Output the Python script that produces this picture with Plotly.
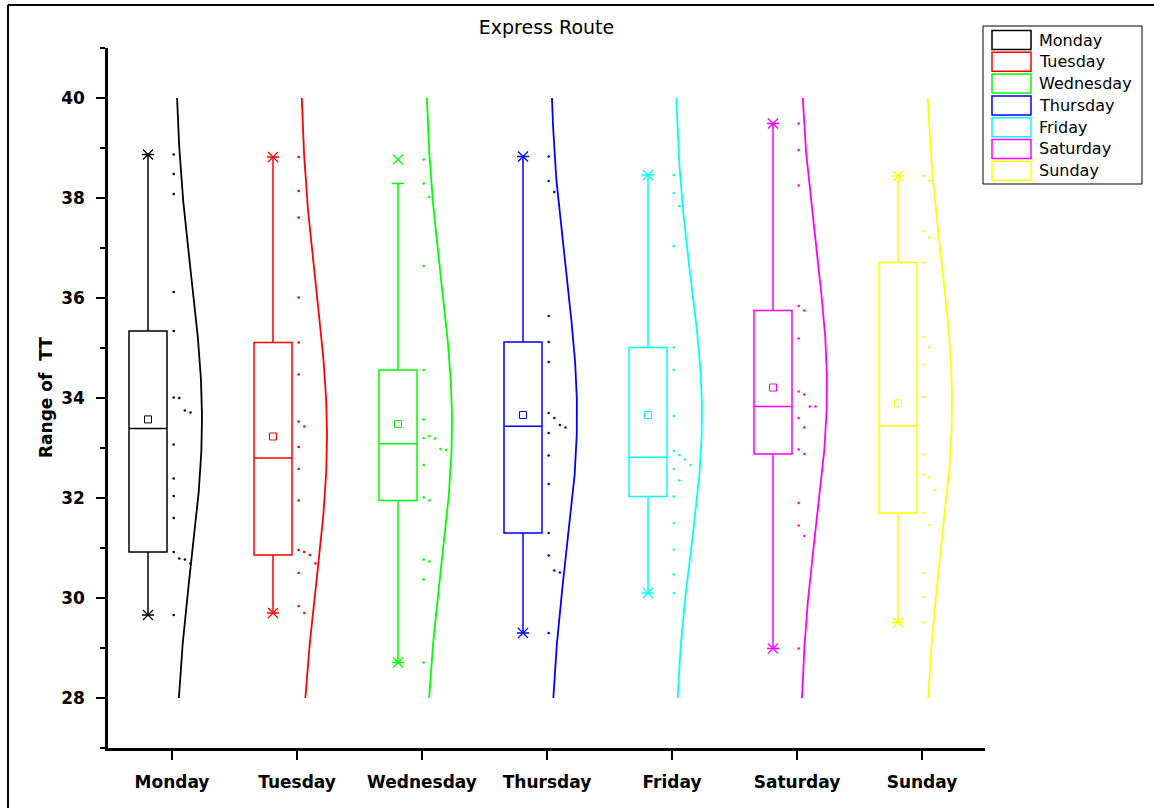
import numpy as np
import plotly.graph_objects as go

# ---- data: travel-time range per weekday (18 trips each) ----
days = ["Monday", "Tuesday", "Wednesday", "Thursday", "Friday", "Saturday", "Sunday"]
colors = ["#000000", "#FF0000", "#00FF00", "#0000FF", "#00FFFF", "#FF00FF", "#FFFF00"]

monday = [38.87, 38.48, 38.08, 36.12, 35.34, 34.01, 34.00, 33.75, 33.71,
          33.07, 32.39, 32.04, 31.60, 30.92, 30.79, 30.77, 30.69, 29.66]
tuesday = [38.82, 38.14, 37.61, 36.01, 35.11, 34.47, 33.53, 33.43, 33.02,
           32.58, 31.95, 30.96, 30.92, 30.86, 30.69, 30.50, 29.84, 29.70]
wednesday = [38.77, 38.29, 38.02, 36.64, 34.56, 33.57, 33.24, 33.20, 33.19,
             32.98, 32.96, 32.66, 32.01, 31.95, 30.77, 30.73, 30.37, 28.71]
thursday = [38.83, 38.34, 38.12, 35.64, 35.12, 34.72, 33.70, 33.60, 33.46,
            33.41, 33.30, 32.85, 32.28, 31.30, 30.85, 30.55, 30.51, 29.30]
friday = [38.46, 38.10, 37.84, 37.04, 35.01, 34.56, 33.64, 32.94, 32.86,
          32.77, 32.66, 32.58, 32.35, 32.03, 31.50, 30.97, 30.47, 30.10]
saturday = [39.49, 38.96, 38.25, 35.84, 35.75, 35.19, 34.13, 34.07, 33.83,
            33.83, 33.60, 33.41, 32.97, 32.88, 31.90, 31.45, 31.24, 28.99]
sunday = [38.44, 38.35, 37.34, 37.21, 36.71, 35.22, 35.01, 34.67, 34.02,
          32.87, 32.47, 32.41, 32.16, 31.70, 31.46, 30.50, 30.02, 29.51]

series = [monday, tuesday, wednesday, thursday, friday, saturday, sunday]

title_text = "Express Route"
y_label = "Range of  TT"
y_range = [27, 41]
curve_span = [28, 40]

# ---- page geometry ----
W, H = 1154, 808
ML, MR, MT, MB = 108, 169, 48, 60
PW = W - ML - MR
PH = H - MT - MB
STEP = 125.0  # pixels per category step on the x axis
FIRST_TICK = 172  # pixel position of the first category


def px_x(px):
    return (px - ML) / PW


def px_y(py):
    return (H - MB - py) / PH


BOX_OFF = -24 / STEP
BOX_W = 38 / STEP
COL0, COLSTEP = 1.7, 5.6
CURVE_BASE, CURVE_AMP = 3.0, 27.0

AX_FONT = dict(family="DejaVu Sans", size=17, color="black", weight="bold")


def jitter_columns(vals, gap=0.35, ncols=5):
    """Put each point in the first column with no close neighbour."""
    cols = []
    placed = []
    for v in vals:
        k = 0
        while k < ncols - 1 and any(c == k and abs(v - p) < gap for c, p in zip(cols, placed)):
            k += 1
        cols.append(k)
        placed.append(v)
    return cols


fig = go.Figure()

for i, (day, vals, col) in enumerate(zip(days, series, colors)):
    arr = np.array(vals)
    bx = i + BOX_OFF

    fig.add_trace(go.Box(
        y=arr, x0=bx, width=BOX_W, name=day,
        boxpoints="outliers", quartilemethod="exclusive",
        marker=dict(opacity=0, size=1),
        line=dict(color=col, width=1.5),
        fillcolor="rgba(0,0,0,0)", whiskerwidth=0.32,
        showlegend=False, hoverinfo="skip",
    ))

    # mean marker
    fig.add_trace(go.Scatter(
        x=[bx], y=[arr.mean()], mode="markers", showlegend=False,
        marker=dict(symbol="square-open", size=7, color=col, line=dict(width=1, color=col)),
        hoverinfo="skip",
    ))

    # min / max markers
    fig.add_trace(go.Scatter(
        x=[bx, bx], y=[arr.min(), arr.max()], mode="markers", showlegend=False,
        marker=dict(symbol="x-thin", size=10, line=dict(width=1.2, color=col)),
        hoverinfo="skip",
    ))

    # raw points, jittered in narrow columns right of the tick
    cols = jitter_columns(vals)
    xs = [i + (COL0 + COLSTEP * k) / STEP for k in cols]
    fig.add_trace(go.Scatter(
        x=xs, y=arr, mode="markers", showlegend=False,
        marker=dict(size=2.6, color=col, line=dict(width=0)),
        hoverinfo="skip",
    ))

    # normal distribution curve fitted to the day's values
    m, s = arr.mean(), arr.std(ddof=1)
    yy = np.linspace(curve_span[0], curve_span[1], 241)
    g = np.exp(-((yy - m) ** 2) / (2 * s * s))
    fig.add_trace(go.Scatter(
        x=i + (CURVE_BASE + CURVE_AMP * g) / STEP, y=yy, mode="lines",
        line=dict(color=col, width=1.8), showlegend=False, hoverinfo="skip",
    ))

shapes = []
annotations = []

# legend drawn as outlined swatches with labels
shapes.append(dict(type="rect", xref="paper", yref="paper",
                   x0=px_x(983), x1=px_x(1142), y0=px_y(26), y1=px_y(184),
                   line=dict(color="black", width=1), fillcolor="white", layer="above"))
for k, (day, col) in enumerate(zip(days, colors)):
    cy = 40 + 21.8 * k
    shapes.append(dict(type="rect", xref="paper", yref="paper",
                       x0=px_x(992), x1=px_x(1031), y0=px_y(cy - 9.5), y1=px_y(cy + 9.5),
                       line=dict(color=col, width=1.5), fillcolor="rgba(0,0,0,0)", layer="above"))
    annotations.append(dict(xref="paper", yref="paper", x=px_x(1037), y=px_y(cy),
                            text=day, showarrow=False, xanchor="left", yanchor="middle",
                            font=dict(family="DejaVu Sans", size=16, color="black")))

# page frame on the left and top edges
shapes.append(dict(type="line", xref="paper", yref="paper",
                   x0=px_x(8), x1=px_x(8), y0=px_y(5), y1=px_y(H + 2),
                   line=dict(color="black", width=2)))
shapes.append(dict(type="line", xref="paper", yref="paper",
                   x0=px_x(8), x1=px_x(W + 2), y0=px_y(5), y1=px_y(5),
                   line=dict(color="black", width=2)))

# y axis title
annotations.append(dict(xref="paper", yref="paper", x=px_x(46), y=0.5,
                        text=y_label, textangle=-90, showarrow=False,
                        xanchor="center", yanchor="middle", font=AX_FONT))

fig.update_layout(
    width=W, height=H,
    margin=dict(l=ML, r=MR, t=MT, b=MB),
    paper_bgcolor="white", plot_bgcolor="white",
    showlegend=False,
    title=dict(text=title_text, x=0.5, xref="paper", xanchor="center",
               y=1 - 27 / H, yref="container", yanchor="middle",
               font=dict(family="DejaVu Sans", size=19, color="black")),
    shapes=shapes, annotations=annotations,
    xaxis=dict(
        range=[(ML - FIRST_TICK) / STEP, (W - MR - FIRST_TICK) / STEP],
        tickmode="array", tickvals=list(range(len(days))), ticktext=days,
        showline=True, linecolor="black", linewidth=2.5,
        ticks="outside", ticklen=9, tickwidth=2, tickcolor="black",
        showgrid=False, zeroline=False, tickfont=AX_FONT, ticklabelstandoff=8,
    ),
    yaxis=dict(
        range=y_range, tick0=0, dtick=2,
        showline=True, linecolor="black", linewidth=2.5,
        ticks="outside", ticklen=9, tickwidth=2, tickcolor="black",
        minor=dict(dtick=1, ticks="outside", ticklen=5, tickwidth=2, tickcolor="black", showgrid=False),
        showgrid=False, zeroline=False, tickfont=AX_FONT, ticklabelstandoff=8,
    ),
)

fig.write_html("out.html")
